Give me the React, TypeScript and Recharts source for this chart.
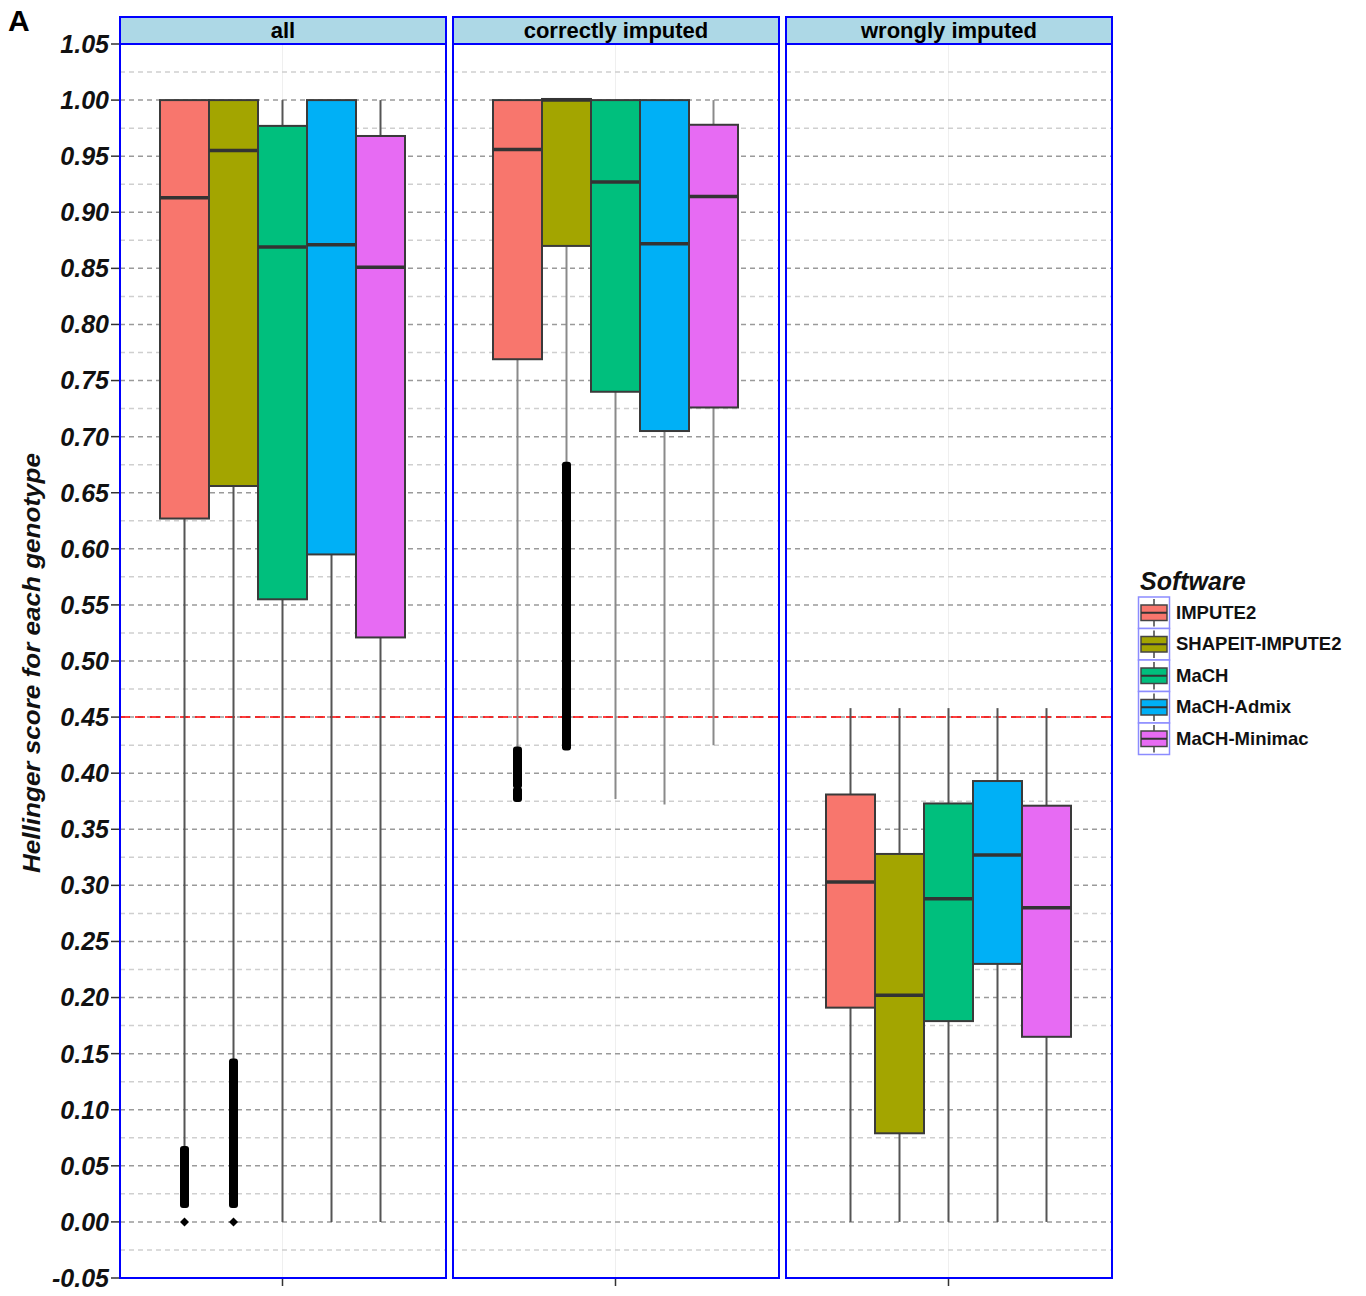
import { ComposedChart, Bar, XAxis, YAxis, ReferenceLine } from 'recharts';

const software = ['IMPUTE2', 'SHAPEIT-IMPUTE2', 'MaCH', 'MaCH-Admix', 'MaCH-Minimac'];
const boxColors = ['#F8766D', '#A3A500', '#00BF7D', '#00B0F6', '#E76BF3'];
const facets = ['all', 'correctly imputed', 'wrongly imputed'];

// tick labels (major grid) and the minor grid in between
const majorTicks = [
  -0.05, 0, 0.05, 0.1, 0.15, 0.2, 0.25, 0.3, 0.35, 0.4, 0.45, 0.5, 0.55, 0.6, 0.65, 0.7, 0.75, 0.8,
  0.85, 0.9, 0.95, 1.0, 1.05,
];
const minorTicks = [
  -0.025, 0.025, 0.075, 0.125, 0.175, 0.225, 0.275, 0.325, 0.375, 0.425, 0.475, 0.525, 0.575, 0.625,
  0.675, 0.725, 0.775, 0.825, 0.875, 0.925, 0.975, 1.025,
];
const threshold = 0.45;

// five-number summaries, same order as `software`
const allLow = [0.065, 0.143, 0.0, 0.0, 0.0];
const allQ1 = [0.627, 0.656, 0.555, 0.595, 0.521];
const allMedian = [0.913, 0.955, 0.869, 0.871, 0.851];
const allQ3 = [1.0, 1.0, 0.977, 1.0, 0.968];
const allHigh = [1.0, 1.0, 1.0, 1.0, 1.0];
// dense runs of overlapping outliers [from, to] and single outliers
const allOutlierRuns = [[[0.015, 0.065]], [[0.015, 0.143]], [], [], []];
const allOutliers = [[0.0], [0.0], [], [], []];

const correctLow = [0.421, 0.675, 0.377, 0.372, 0.425];
const correctQ1 = [0.769, 0.87, 0.74, 0.705, 0.726];
const correctMedian = [0.956, 1.0, 0.927, 0.872, 0.914];
const correctQ3 = [1.0, 1.001, 1.0, 1.0, 0.978];
const correctHigh = [1.0, 1.001, 1.0, 1.0, 1.0];
const correctOutlierRuns = [[[0.377, 0.385], [0.389, 0.421]], [[0.423, 0.675]], [], [], []];
const correctOutliers = [[], [], [], [], []];

const wrongLow = [0.0, 0.0, 0.0, 0.0, 0.0];
const wrongQ1 = [0.191, 0.079, 0.179, 0.23, 0.165];
const wrongMedian = [0.303, 0.202, 0.288, 0.327, 0.28];
const wrongQ3 = [0.381, 0.328, 0.373, 0.393, 0.371];
const wrongHigh = [0.458, 0.458, 0.458, 0.458, 0.458];
const wrongOutlierRuns = [[], [], [], [], []];
const wrongOutliers = [[], [], [], [], []];

const FONT = "'Liberation Sans', Arial, sans-serif";
const DOMAIN: [number, number] = [-0.05, 1.05];

function makeRows(low, q1, med, q3, high, runs, points) {
  return software.map((name, i) => ({
    name,
    color: boxColors[i],
    box: [q1[i], q3[i]],
    q1: q1[i],
    q3: q3[i],
    median: med[i],
    low: low[i],
    high: high[i],
    runs: runs[i],
    points: points[i],
  }));
}

const panels = [
  makeRows(allLow, allQ1, allMedian, allQ3, allHigh, allOutlierRuns, allOutliers),
  makeRows(correctLow, correctQ1, correctMedian, correctQ3, correctHigh, correctOutlierRuns, correctOutliers),
  makeRows(wrongLow, wrongQ1, wrongMedian, wrongQ3, wrongHigh, wrongOutlierRuns, wrongOutliers),
];
const whiskerColors = ['#555', '#8a8a8a', '#555'];

function makeBoxShape(whisker: string) {
  return function BoxShape(props: any) {
    const { x, y, width, height, payload } = props;
    const top = Math.min(y, y + height);
    const h = Math.abs(height);
    const k = h / (payload.q3 - payload.q1);
    const py = (v: number) => top + (payload.q3 - v) * k;
    const cx = x + width / 2;
    return (
      <g>
        <line x1={cx} x2={cx} y1={py(payload.high)} y2={py(payload.q3)} stroke={whisker} strokeWidth={2} />
        <line x1={cx} x2={cx} y1={py(payload.q1)} y2={py(payload.low)} stroke={whisker} strokeWidth={2} />
        <rect x={x} y={top} width={width} height={h} fill={payload.color} stroke="#3a3a3a" strokeWidth={2} />
        <line
          x1={x}
          x2={x + width}
          y1={py(payload.median)}
          y2={py(payload.median)}
          stroke="#333"
          strokeWidth={3.5}
        />
        {payload.runs.map((r: number[], i: number) => (
          <rect
            key={'r' + i}
            x={cx - 4.5}
            y={py(r[1]) - 3}
            width={9}
            height={py(r[0]) - py(r[1]) + 6}
            rx={3}
            fill="#000"
          />
        ))}
        {payload.points.map((v: number, i: number) => (
          <polygon
            key={'p' + i}
            points={`${cx},${py(v) - 4.5} ${cx + 4.5},${py(v)} ${cx},${py(v) + 4.5} ${cx - 4.5},${py(v)}`}
            fill="#000"
          />
        ))}
      </g>
    );
  };
}

function Panel({ rows, withAxis, whisker }: { rows: any[]; withAxis: boolean; whisker: string }) {
  return (
    <ComposedChart
      width={withAxis ? 450 : 326}
      height={1296}
      data={rows}
      margin={{ top: 44, right: withAxis ? 4 : 0, bottom: 0, left: 0 }}
      barCategoryGap={0}
      barGap={0}
    >
      <XAxis
        dataKey="name"
        type="category"
        padding={{ left: 40, right: 41 }}
        ticks={['MaCH']}
        tickFormatter={() => ''}
        axisLine={false}
        tickLine={{ stroke: '#333', strokeWidth: 1.5 }}
        tickSize={8}
        height={18}
      />
      {withAxis ? (
        <YAxis
          type="number"
          domain={DOMAIN}
          ticks={majorTicks}
          allowDataOverflow
          width={120}
          axisLine={false}
          tickSize={9}
          tickMargin={2}
          tickLine={{ stroke: '#333', strokeWidth: 1.5 }}
          tickFormatter={(v: number) => v.toFixed(2)}
          tick={{ fontSize: 25, fontWeight: 700, fontStyle: 'italic', fill: '#111', fontFamily: FONT }}
          interval={0}
        />
      ) : (
        <YAxis type="number" domain={DOMAIN} ticks={majorTicks} allowDataOverflow hide />
      )}
      <ReferenceLine x="MaCH" stroke="#efefef" strokeWidth={1} zIndex={-60} />
      {minorTicks.map((v) => (
        <ReferenceLine key={'m' + v} y={v} stroke="#cfcfcf" strokeWidth={1.5} strokeDasharray="5 4" zIndex={-60} />
      ))}
      {majorTicks.map((v) => (
        <ReferenceLine key={'M' + v} y={v} stroke="#9a9a9a" strokeWidth={1.5} strokeDasharray="5 4" zIndex={-55} />
      ))}
      <ReferenceLine y={threshold} stroke="#ff0000" strokeWidth={1.5} strokeDasharray="10 5" zIndex={-50} />
      <Bar dataKey="box" shape={makeBoxShape(whisker)} isAnimationActive={false} />
    </ComposedChart>
  );
}

const panelLeft = [120, 453, 786];
const panelWidth = 326;

export default function App() {
  return (
    <div
      style={{
        position: 'absolute',
        left: 0,
        top: 0,
        width: 1366,
        height: 1296,
        background: '#fff',
        overflow: 'hidden',
        fontFamily: FONT,
      }}
    >
      {panels.map((rows, i) => (
        <div key={i} style={{ position: 'absolute', top: 0, left: i === 0 ? 0 : panelLeft[i] }}>
          <Panel rows={rows} withAxis={i === 0} whisker={whiskerColors[i]} />
        </div>
      ))}
      <svg width={1366} height={1296} style={{ position: 'absolute', left: 0, top: 0, pointerEvents: 'none' }}>
        <text x={8} y={31} fontSize={30} fontWeight={700} fontFamily={FONT} fill="#000">
          A
        </text>
        <text
          transform="translate(40,663) rotate(-90)"
          textAnchor="middle"
          fontSize={24}
          fontWeight={700}
          fontStyle="italic"
          fontFamily={FONT}
          textLength={420}
          lengthAdjust="spacingAndGlyphs"
          fill="#111"
        >
          Hellinger score for each genotype
        </text>
        {facets.map((f, i) => (
          <g key={f}>
            <rect x={panelLeft[i]} y={17} width={panelWidth} height={27} fill="#add8e6" stroke="#0000ff" strokeWidth={2} />
            <text
              x={panelLeft[i] + panelWidth / 2}
              y={38}
              textAnchor="middle"
              fontSize={22}
              fontWeight={700}
              fontFamily={FONT}
              fill="#000"
            >
              {f}
            </text>
            <rect x={panelLeft[i]} y={44} width={panelWidth} height={1234} fill="none" stroke="#0000ff" strokeWidth={2} />
          </g>
        ))}
        <text x={1140} y={590} fontSize={25} fontWeight={700} fontStyle="italic" fontFamily={FONT} fill="#111">
          Software
        </text>
        {software.map((s, i) => {
          const top = 597 + i * 31.5;
          return (
            <g key={s}>
              <rect x={1138.5} y={top} width={31} height={31.5} fill="#fff" stroke="#8c8cff" strokeWidth={1.5} />
              <line x1={1154} x2={1154} y1={top + 2} y2={top + 29.5} stroke="#444" strokeWidth={1.5} />
              <rect x={1141} y={top + 8} width={26} height={15.5} fill={boxColors[i]} stroke="#444" strokeWidth={1.5} />
              <line x1={1141} x2={1167} y1={top + 15.75} y2={top + 15.75} stroke="#333" strokeWidth={2} />
              <text x={1176} y={top + 21.5} fontSize={18.5} fontWeight={700} fontFamily={FONT} fill="#111">
                {s}
              </text>
            </g>
          );
        })}
      </svg>
    </div>
  );
}
